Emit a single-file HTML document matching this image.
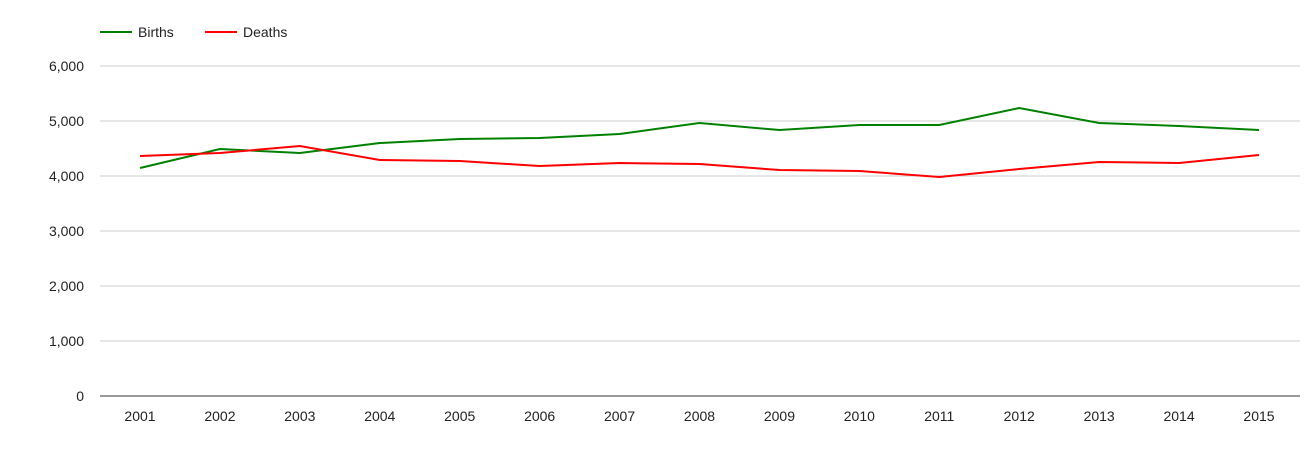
<!DOCTYPE html>
<html><head><meta charset="utf-8"><style>
body{margin:0;background:#fff;font-family:"Liberation Sans",Arial,sans-serif}
svg text{font-family:"Liberation Sans",Arial,sans-serif;font-size:14px;fill:#222}
</style></head><body>
<svg id="chart" width="1305" height="450">
<g>
<g><line x1="100" y1="32" x2="132" y2="32" stroke="#008000" stroke-width="2"/><text x="138" y="37">Births</text></g>
<g><line x1="205" y1="32" x2="237" y2="32" stroke="#ff0000" stroke-width="2"/><text x="243" y="37">Deaths</text></g>
</g>
<g id="grid"></g><g id="xl"></g><g id="series"></g>
</svg>
<script>
const years=["2001","2002","2003","2004","2005","2006","2007","2008","2009","2010","2011","2012","2013","2014","2015"];
const births=[4145,4490,4418,4600,4673,4691,4764,4964,4836,4927,4927,5236,4964,4909,4836];
const deaths=[4364,4418,4545,4291,4273,4182,4236,4218,4109,4091,3982,4127,4255,4236,4382];
const yTicks=[0,1000,2000,3000,4000,5000,6000];
const yTickLabels=["0","1,000","2,000","3,000","4,000","5,000","6,000"];
const NS="http://www.w3.org/2000/svg";
const y=v=>396-v*330/6000;
const x=i=>140+i*(1259-140)/(years.length-1);
function mk(t,a,p){const e=document.createElementNS(NS,t);for(const k in a)e.setAttribute(k,a[k]);p.appendChild(e);return e;}
const g=document.getElementById('grid');
yTicks.forEach((v,i)=>{
 const l=mk('line',{x1:100,x2:1300,y1:y(v),y2:y(v),stroke:v===0?'#333':'#ccc','stroke-width':1},g);
 
 
 const t=mk('text',{x:84,y:y(v)+5,'text-anchor':'end'},g);t.textContent=yTickLabels[i];
 
 
});
const xl=document.getElementById('xl');
years.forEach((yr,i)=>{const t=mk('text',{x:x(i),y:421,'text-anchor':'middle'},xl);t.textContent=yr;
 
 });
const s=document.getElementById('series');
const pb=mk('polyline',{points:births.map((v,i)=>x(i)+','+y(v)).join(' '),fill:'none',stroke:'#008000','stroke-width':2},s);


const pd=mk('polyline',{points:deaths.map((v,i)=>x(i)+','+y(v)).join(' '),fill:'none',stroke:'#ff0000','stroke-width':2},s);


</script>
</body></html>
